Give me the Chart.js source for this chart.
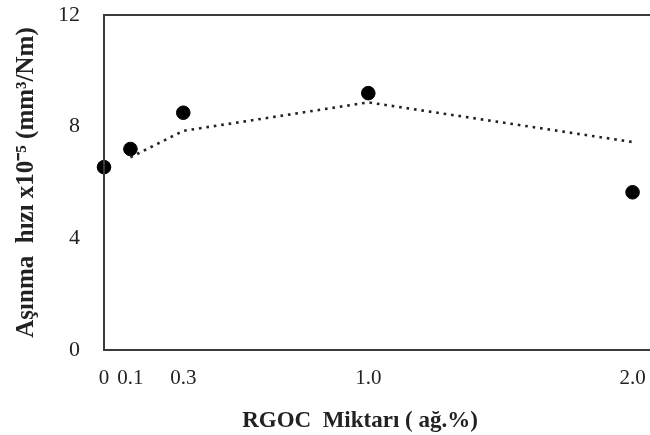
<!DOCTYPE html>
<html>
<head>
<meta charset="utf-8">
<script src="https://cdn.jsdelivr.net/npm/chart.js@4"></script>
<style>
  html, body { margin: 0; padding: 0; background: #fff; overflow: hidden; }
  #wrap { width: 659px; height: 435px; }
</style>
</head>
<body>
<div id="wrap"><canvas id="c" width="659" height="435"></canvas></div>
<script>
// ---- data ----
const xValues = [0, 0.1, 0.3, 1.0, 2.0];
const wearRate = [6.55, 7.2, 8.5, 9.2, 5.65];
const trendX = [0.1, 0.3, 1.0, 2.0];
const trendValues = [6.9, 7.85, 8.87, 7.45];
const xTickLabels = ['0', '0.1', '0.3', '1.0', '2.0'];
const yTickValues = [0, 4, 8, 12];
const yTitle = 'Aşınma  hızı x10⁻⁵ (mm³/Nm)';
const xTitle = 'RGOC  Miktarı ( ağ.%)';

const serif = '"Liberation Serif", "Times New Roman", serif';
const axisColor = '#3a3a3a';

const pointsData = xValues.map((x, i) => ({ x: x, y: wearRate[i] }));
const trendData = trendX.map((x, i) => ({ x: x, y: trendValues[i] }));

const frame = {
  id: 'frame',
  afterDatasetsDraw(chart) {
    const a = chart.chartArea, ctx = chart.ctx;
    ctx.save();
    ctx.strokeStyle = axisColor;
    ctx.lineWidth = 2;
    ctx.strokeRect(a.left, a.top, a.right - a.left, a.bottom - a.top);
    ctx.restore();
  },
  afterDraw(chart) {
    const ctx = chart.ctx;
    ctx.save();
    ctx.font = 'bold 23px ' + serif;
    ctx.fillStyle = '#222';
    ctx.textAlign = 'center';
    ctx.textBaseline = 'middle';
    ctx.fillText(xTitle, 360, 421);
    ctx.restore();
  }
};

new Chart(document.getElementById('c'), {
  type: 'scatter',
  data: {
    datasets: [
      {
        label: 'trend',
        data: trendData,
        showLine: true,
        borderColor: '#222',
        borderWidth: 2.6,
        borderDash: [2.6, 4.9],
        borderCapStyle: 'butt',
        pointRadius: 0,
        fill: false,
        clip: false,
        order: 2
      },
      {
        label: 'wear',
        data: pointsData,
        backgroundColor: '#000',
        borderColor: '#000',
        pointRadius: 6.8,
        pointHoverRadius: 6.8,
        clip: false,
        order: 1
      }
    ]
  },
  options: {
    responsive: false,
    animation: false,
    devicePixelRatio: 1,
    layout: { autoPadding: false, padding: { top: 15, left: 0, right: 0, bottom: 0 } },
    plugins: { legend: { display: false }, tooltip: { enabled: false }, title: { display: false } },
    scales: {
      x: {
        type: 'linear',
        min: 0,
        max: 2.1,
        grid: { display: false, drawTicks: false },
        border: { display: false },
        afterBuildTicks(scale) { scale.ticks = xValues.map(v => ({ value: v })); },
        afterFit(scale) { scale.height = 85; scale.paddingLeft = 0; scale.paddingRight = 0; },
        ticks: {
          autoSkip: false,
          maxRotation: 0,
          padding: 16,
          color: '#222',
          font: { family: serif, size: 21 },
          callback: (v) => { const i = xValues.indexOf(v); return i >= 0 ? xTickLabels[i] : ''; }
        }
      },
      y: {
        min: 0,
        max: 12,
        grid: { display: false, drawTicks: false },
        border: { display: false },
        afterBuildTicks(scale) { scale.ticks = yTickValues.map(v => ({ value: v })); },
        afterFit(scale) { scale.width = 104; scale.paddingTop = 10; scale.paddingBottom = 0; },
        ticks: {
          padding: 24,
          color: '#222',
          font: { family: serif, size: 22 }
        },
        title: {
          display: true,
          text: yTitle,
          color: '#222',
          font: { family: serif, size: 25, weight: 'bold' },
          padding: { top: 12, bottom: 0 }
        }
      }
    }
  },
  plugins: [frame]
});
</script>
</body>
</html>
